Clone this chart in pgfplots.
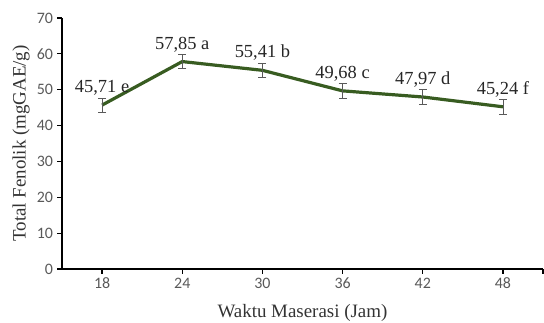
\documentclass[border=0pt]{standalone}
\usepackage{fontspec}
\setmainfont{Liberation Serif}
\newfontfamily\calibri{Carlito}
\usepackage{pgfplots}
\usepackage{pgfplotstable}
\pgfplotsset{compat=1.18}
\definecolor{lgreen}{RGB}{56,92,33}
\definecolor{tickgray}{RGB}{89,89,89}
\pgfplotstableread[col sep=semicolon]{
x;y;e;lab
0;45.71;2;45,71 e
1;57.85;2;57,85 a
2;55.41;2;55,41 b
3;49.68;2;49,68 c
4;47.97;2;47,97 d
5;45.24;2;45,24 f
}\datatable
\begin{document}
\begin{tikzpicture}
\useasboundingbox (-62bp,-54bp) rectangle (482bp,269bp);
\begin{axis}[
  at={(0,0)}, anchor=south west,
  scale only axis,
  width=481bp, height=251bp,
  xmin=-0.5, xmax=5.5,
  ymin=0, ymax=70,
  axis x line*=bottom,
  axis y line*=left,
  axis line style={line width=1.5bp, black, -},
  xtick={0,1,2,3,4,5,5.5},
  xticklabels={18,24,30,36,42,48,{}},
  ytick={0,10,...,70},
  tick align=outside,
  major tick length=4.5bp,
  tick style={line width=1.2bp, black},
  /pgf/number format/assume math mode=true,
  ticklabel style={font=\calibri\fontsize{16}{18}\selectfont, text=tickgray},
  yticklabel style={xshift=-1bp},
  xticklabel style={yshift=-1bp},
  xlabel={Waktu Maserasi (Jam)},
  ylabel={Total Fenolik (mgGAE/g)},
  label style={font=\fontsize{19}{22}\selectfont, text=black!80},
  xlabel style={at={(axis description cs:0.5,-0.175)}, anchor=center},
  ylabel style={at={(axis description cs:-0.085,0.5)}, anchor=center},
  clip=false,
]
\addplot[
  color=lgreen, line width=3.2bp, mark=none,
  error bars/.cd, y dir=both, y explicit,
  error bar style={line width=0.8bp, black!65},
  error mark options={rotate=90, mark size=4bp, line width=0.8bp, black!65},
] table[x=x, y=y, y error=e] {\datatable};
\addplot[
  draw=none, mark=none,
  point meta=explicit symbolic,
  nodes near coords,
  nodes near coords style={font=\fontsize{18.5}{22}\selectfont, text=black!85, yshift=6bp},
] table[x=x, y=y, meta=lab] {\datatable};
\end{axis}
\end{tikzpicture}
\end{document}
